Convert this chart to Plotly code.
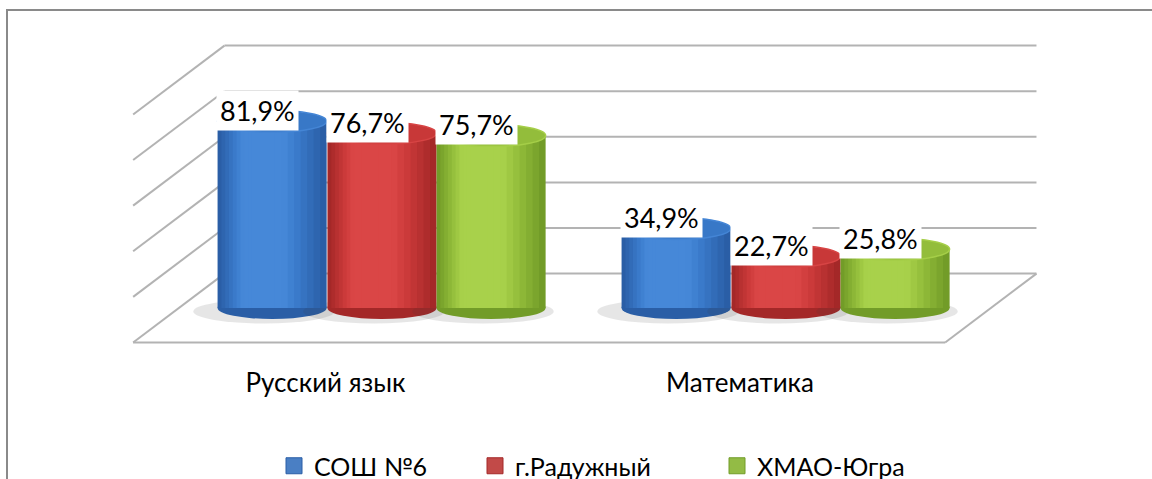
import plotly.graph_objects as go

# ---------------- data ----------------
categories = ["Русский язык", "Математика"]
series_names = ["СОШ №6", "г.Радужный", "ХМАО-Югра"]
soh6 = [81.9, 34.9]
raduzhny = [76.7, 22.7]
hmao = [75.7, 25.8]
series_values = [soh6, raduzhny, hmao]
grid_values = [0, 20, 40, 60, 80, 100]

# ---------------- styles ----------------
FONT = "Lato"
EDGE = ["#2a5ea6", "#a42828", "#729c28"]
MID = ["#3a7bcb", "#cc3a3a", "#97c13d"]
LIGHT = ["#4688d8", "#da4646", "#a8d14b"]
LEG = ["#4a7fc4", "#c24a48", "#93bb45"]
OFFSETS = [-0.272, 0.0, 0.27]
LABEL_SHIFT = [-0.14, -0.114]
W = 0.27            # bar width (category units)
E = 4.8             # half height of cylinder ellipse (value units)
D_Y = 15.1          # perspective depth offset (value units)
XB_L, XB_R = -0.39, 1.62     # back wall x extent
XF_L, XF_R = -0.616, 1.394   # front floor x extent
GRID = "#b3b3b3"


def blend(c1, c2, t):
    a = [int(c1[i:i + 2], 16) for i in (1, 3, 5)]
    b = [int(c2[i:i + 2], 16) for i in (1, 3, 5)]
    return "#" + "".join(f"{round(a[k] + (b[k] - a[k]) * t):02x}" for k in range(3))


fig = go.Figure()
shapes = []

# 3D frame (back wall, left wall, floor) derived from grid values
for v in grid_values:
    shapes.append(dict(type="line", xref="x", yref="y", x0=XB_L, x1=XB_R,
                       y0=v + D_Y, y1=v + D_Y, line=dict(color=GRID, width=2), layer="below"))
    shapes.append(dict(type="line", xref="x", yref="y", x0=XF_L, x1=XB_L,
                       y0=v - D_Y, y1=v + D_Y, line=dict(color=GRID, width=2), layer="below"))
shapes.append(dict(type="line", xref="x", yref="y", x0=XF_L, x1=XF_R,
                   y0=grid_values[0] - D_Y, y1=grid_values[0] - D_Y,
                   line=dict(color=GRID, width=2), layer="below"))
shapes.append(dict(type="line", xref="x", yref="y", x0=XF_R, x1=XB_R,
                   y0=grid_values[0] - D_Y, y1=grid_values[0] + D_Y,
                   line=dict(color=GRID, width=2), layer="below"))

# outer chart border
shapes.append(dict(type="rect", xref="paper", yref="paper", x0=7 / 1152, x1=1.02,
                   y0=-0.05, y1=1 - 10 / 479, line=dict(color="#8a8a8a", width=2),
                   fillcolor="rgba(0,0,0,0)", layer="below"))

# cylinders: nested bars give a smooth cylindrical shading
N_LAYERS = 10
for s, (name, vals) in enumerate(zip(series_names, series_values)):
    xs = [i + OFFSETS[s] for i in range(len(categories))]
    # floor shadow + rounded bottom
    for x in xs:
        shapes.append(dict(type="circle", xref="x", yref="y", x0=x - W / 2 - 0.06, x1=x + W / 2 + 0.02,
                           y0=-E - 2.0, y1=E - 1, fillcolor="rgba(60,60,60,0.13)",
                           line=dict(width=0), layer="below"))
        shapes.append(dict(type="circle", xref="x", yref="y", x0=x - W / 2, x1=x + W / 2,
                           y0=-E, y1=E, fillcolor=EDGE[s], line=dict(width=0), layer="below"))
    for k in range(N_LAYERS):
        f = k / (N_LAYERS - 1)
        wf = 1.0 - 0.85 * f
        t = min(1.5, 2.2 * f)
        if t <= 1:
            col = blend(EDGE[s], MID[s], t)
        else:
            col = blend(MID[s], LIGHT[s], (t - 1) / 0.5)
        fig.add_trace(go.Bar(
            x=[x - 0.03 * f for x in xs], y=vals, width=W * wf,
            marker=dict(color=col, line=dict(width=0)),
            showlegend=False, hoverinfo="skip"))
    for x, v in zip(xs, vals):
        shapes.append(dict(type="circle", xref="x", yref="y", x0=x - W / 2, x1=x + W / 2,
                           y0=v - E, y1=v + E, fillcolor=blend(MID[s], EDGE[s], 0.1),
                           line=dict(color=blend(MID[s], LIGHT[s], 0.8), width=1.5)))
        fig.add_annotation(x=x - 0.037, y=v, yshift=11, xref="x", yref="y",
                           text=f"{v:.1f}%".replace(".", ","), showarrow=False,
                           bgcolor="white", borderpad=3,
                           font=dict(family=FONT, size=27, color="black"))

# legend entries (three separately positioned legends)
leg_names = ["legend", "legend2", "legend3"]
for s, name in enumerate(series_names):
    fig.add_trace(go.Scatter(
        x=[None], y=[None], mode="markers", name=name, legend=leg_names[s],
        marker=dict(symbol="square", size=17, color=LEG[s],
                    line=dict(color=EDGE[s], width=1))))

leg_x = [274 / 1152, 475 / 1152, 717 / 1152]
leg_common = dict(y=(479 - 466) / 479, yanchor="middle", xanchor="left",
                  orientation="h", bgcolor="rgba(0,0,0,0)",
                  font=dict(family=FONT, size=25, color="black"))

fig.update_layout(
    width=1152, height=479,
    margin=dict(l=0, r=0, t=0, b=0, autoexpand=False),
    paper_bgcolor="white", plot_bgcolor="white",
    barmode="overlay",
    shapes=shapes,
    legend=dict(x=leg_x[0], **leg_common),
    legend2=dict(x=leg_x[1], **leg_common),
    legend3=dict(x=leg_x[2], **leg_common),
    xaxis=dict(domain=[0, 1], range=[-382 / 404, (1152 - 382) / 404],
               tickvals=[i + LABEL_SHIFT[i] for i in range(len(categories))], ticktext=categories,
               ticks="", showgrid=False, zeroline=False, showline=False,
               tickfont=dict(family=FONT, size=26, color="black"), ticklabelstandoff=5),
    yaxis=dict(domain=[(479 - 360) / 479, 1], range=[-22.8, 135.1],
               showticklabels=False, showgrid=False, zeroline=False, showline=False),
)

fig.write_html("out.html", config={"displayModeBar": False},
               post_script="document.body.style.margin='0';document.body.style.overflow='hidden';")
